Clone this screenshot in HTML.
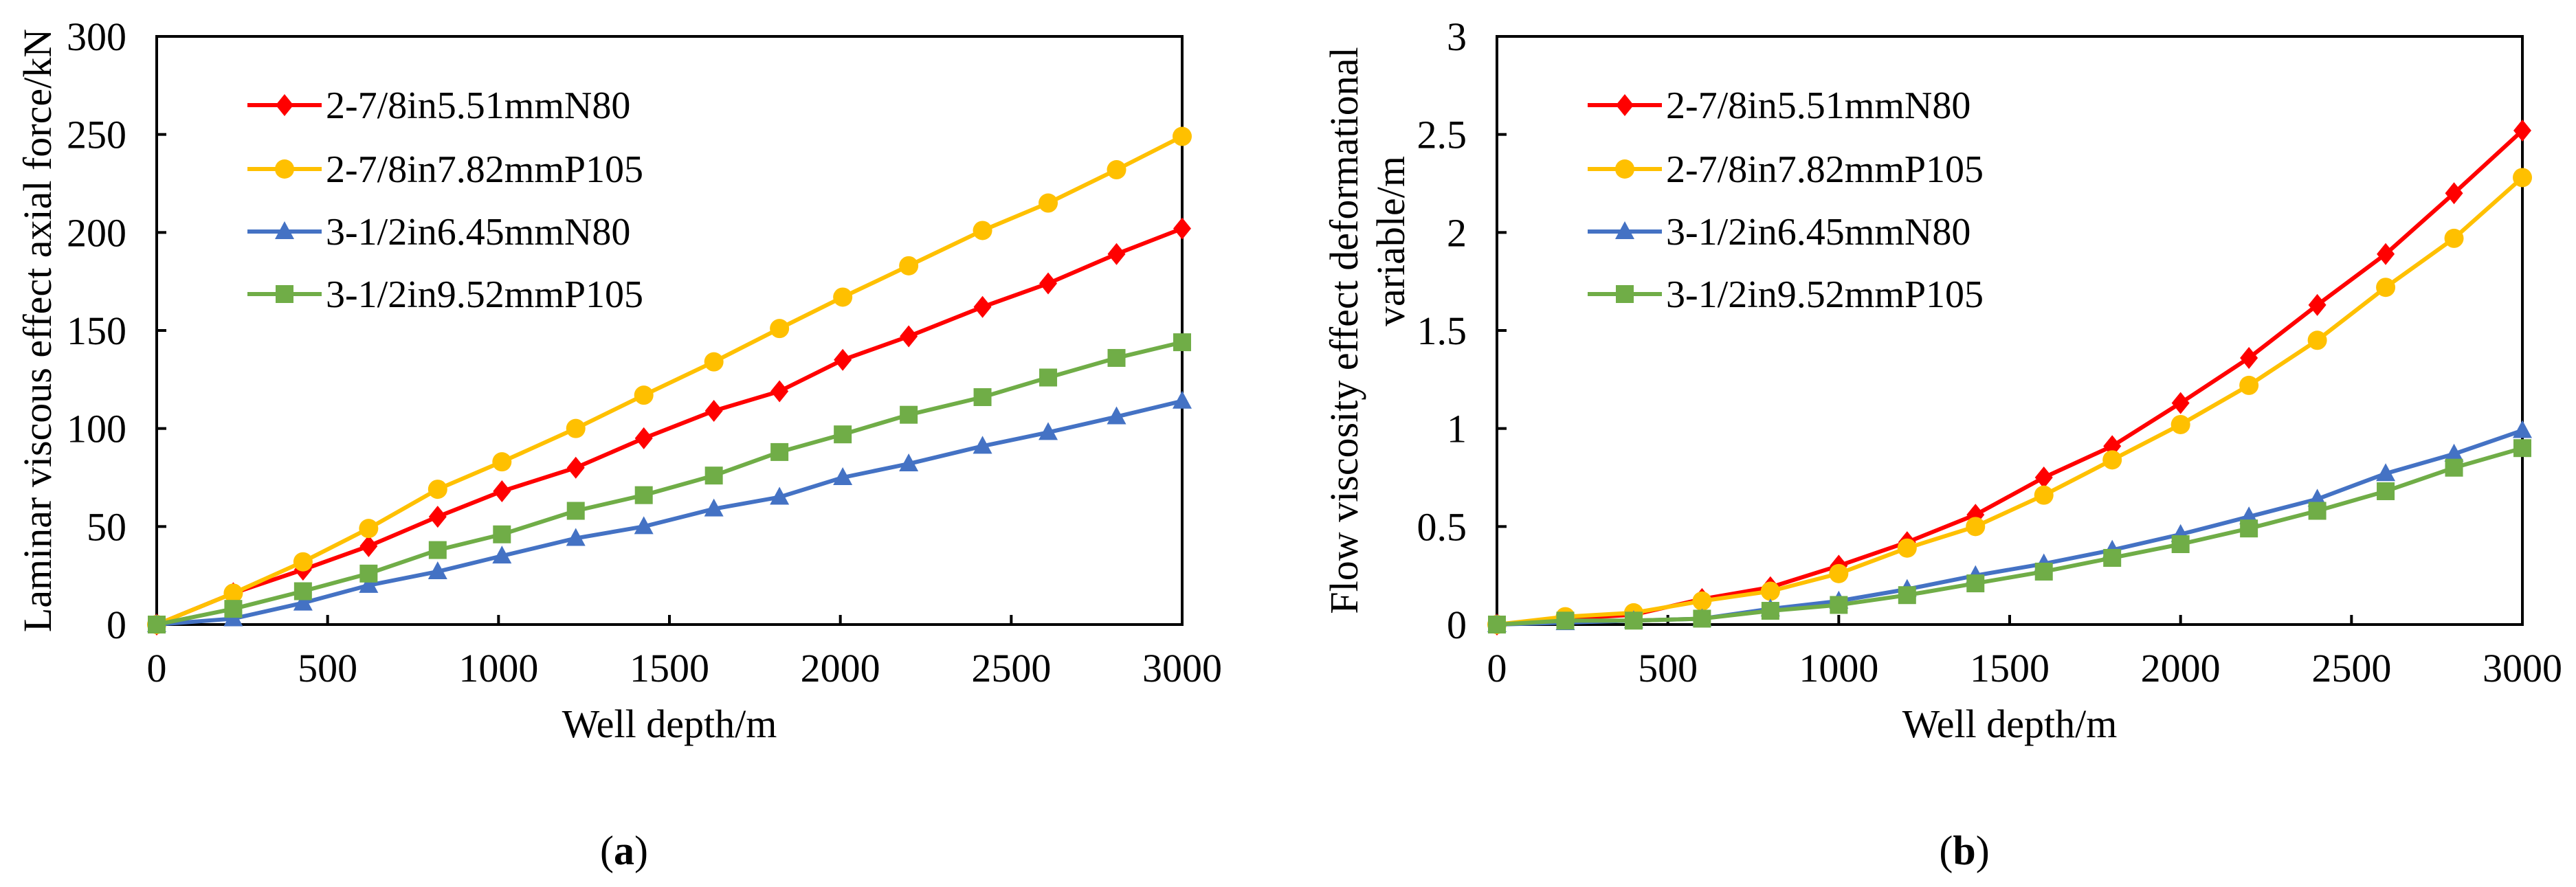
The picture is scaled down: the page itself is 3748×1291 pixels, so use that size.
<!DOCTYPE html>
<html><head><meta charset="utf-8"><style>
html,body{margin:0;padding:0;background:#fff;}
svg{display:block;}
svg text{font-family:"Liberation Serif","Times New Roman",serif;}
</style></head><body>
<svg id="s" width="3748" height="1291" viewBox="0 0 3748 1291" xmlns="http://www.w3.org/2000/svg"></svg>
<script>
const xA = [0,224,428,620,822,1010,1226,1425,1630,1822,2007,2200,2416,2608,2808,3000];
const redA = [0,16,28,40,55,68,80,95,109,119,135,147,162,174,189,202];
const yellowA = [0,16,32,49,69,83,100,117,134,151,167,183,201,215,232,249];
const blueA = [0,3,11,20,27,35,44,50,59,65,75,82,91,98,106,114];
const greenA = [0,8,17,26,38,46,58,66,76,88,97,107,116,126,136,144];
const xB = [0,200,400,600,800,1000,1200,1400,1600,1800,2000,2200,2400,2600,2800,3000];
const redB = [0,0.03,0.05,0.13,0.19,0.30,0.42,0.56,0.75,0.91,1.13,1.36,1.63,1.89,2.20,2.52];
const yellowB = [0,0.04,0.06,0.12,0.17,0.26,0.39,0.50,0.66,0.84,1.02,1.22,1.45,1.72,1.97,2.28];
const blueB = [0,0.01,0.02,0.03,0.08,0.12,0.18,0.25,0.31,0.38,0.46,0.55,0.64,0.77,0.87,0.99];
const greenB = [0,0.02,0.02,0.03,0.07,0.10,0.15,0.21,0.27,0.34,0.41,0.49,0.58,0.68,0.80,0.90];
const xTicks = [0,500,1000,1500,2000,2500,3000];
const yTicksA = [0,50,100,150,200,250,300];
const yTicksB = [0,0.5,1,1.5,2,2.5,3];
const legendLabels = ["2-7/8in5.51mmN80","2-7/8in7.82mmP105","3-1/2in6.45mmN80","3-1/2in9.52mmP105"];

const NS="http://www.w3.org/2000/svg";
const svg=document.getElementById('s');
const FF='Liberation Serif, Times New Roman, serif';
function el(tag,attrs,parent,text){const e=document.createElementNS(NS,tag);for(const k in attrs)e.setAttribute(k,attrs[k]);if(tag==='text')e.setAttribute('font-family',FF);if(text!==undefined)e.textContent=text;(parent||svg).appendChild(e);return e;}
const colors=["#FF0000","#FFC000","#4472C4","#70AD47"];
const markers=["diamond","circle","triangle","square"];
function marker(g,type,x,y,c){
  let m;
  if(type==="diamond") m=el('polygon',{points:`${x},${y-16} ${x+13},${y} ${x},${y+16} ${x-13},${y}`,fill:c},g);
  else if(type==="circle") m=el('circle',{cx:x,cy:y,r:14,fill:c},g);
  else if(type==="triangle") m=el('polygon',{points:`${x},${y-15} ${x+14},${y+11} ${x-14},${y+11}`,fill:c},g);
  else m=el('rect',{x:x-13,y:y-13,width:26,height:26,fill:c},g);
  
  
}
function chart(id,L,R,T,B,yMax,xs,series,yTicks,yTitleLines,yTitleX,tickRight,cap,capX){
  const g=el('g',{},svg);
  
  
  const sx=v=>L+(v/3000)*(R-L);
  const sy=v=>B-(v/yMax)*(B-T);
  const frame=el('rect',{x:L,y:T,width:R-L,height:B-T,fill:'none',stroke:'#000','stroke-width':4},g);
  
  
  xTicks.forEach(t=>{
    el('line',{x1:sx(t),x2:sx(t),y1:B,y2:B-14,stroke:'#000','stroke-width':4},g);
    const tx=el('text',{x:sx(t),y:992,'font-size':58,'text-anchor':'middle',fill:'#000'},g,String(t));
    
    
  });
  yTicks.forEach(t=>{
    el('line',{x1:L,x2:L+14,y1:sy(t),y2:sy(t),stroke:'#000','stroke-width':4},g);
    const ty=el('text',{x:tickRight,y:sy(t)+20,'font-size':58,'text-anchor':'end',fill:'#000'},g,String(t));
    
    
  });
  series.forEach((vals,i)=>{
    const pts=vals.map((v,j)=>`${sx(xs[j])},${sy(v)}`).join(' ');
    const pl=el('polyline',{points:pts,fill:'none',stroke:colors[i],'stroke-width':6,'stroke-linejoin':'round'},g);
    
    
    vals.forEach((v,j)=>marker(g,markers[i],sx(xs[j]),sy(v),colors[i]));
  });
  const lx=L+132, ly=[153,246,337,428];
  legendLabels.forEach((lab,i)=>{
    const lg=el('g',{},g);
    
    
    el('line',{x1:lx,x2:lx+108,y1:ly[i],y2:ly[i],stroke:colors[i],'stroke-width':6},lg);
    marker(lg,markers[i],lx+54,ly[i],colors[i]);
    el('text',{x:lx+114,y:ly[i]+19,'font-size':56,fill:'#000'},lg,lab);
  });
  const xt=el('text',{x:(L+R)/2,y:1073,'font-size':58,'text-anchor':'middle',fill:'#000'},g,'Well depth/m');
  
  
  yTitleLines.forEach((line,k)=>{
    const cx=yTitleX[k], cy=(T+B)/2 - (yTitleLines.length>1&&k===1?130:0);
    const t=el('text',{x:cx,y:cy,'font-size':58,'text-anchor':'middle',fill:'#000',transform:`rotate(-90 ${cx} ${cy})`},g,line);
    
    
  });
  const c=el('text',{x:capX,y:1258,'font-size':60,'text-anchor':'middle',fill:'#000'},g);
  
  
  el('tspan',{},c,'(');el('tspan',{'font-weight':'bold'},c,cap);el('tspan',{},c,')');
}
chart('chart-a',228,1720,53,909,300,xA,[redA,yellowA,blueA,greenA],yTicksA,['Laminar  viscous effect axial force/kN'],[74],184,'a',908);
chart('chart-b',2178,3670,53,909,3,xB,[redB,yellowB,blueB,greenB],yTicksB,['Flow viscosity effect deformational','variable/m'],[1975,2043],2134,'b',2858);
</script>
</body></html>
